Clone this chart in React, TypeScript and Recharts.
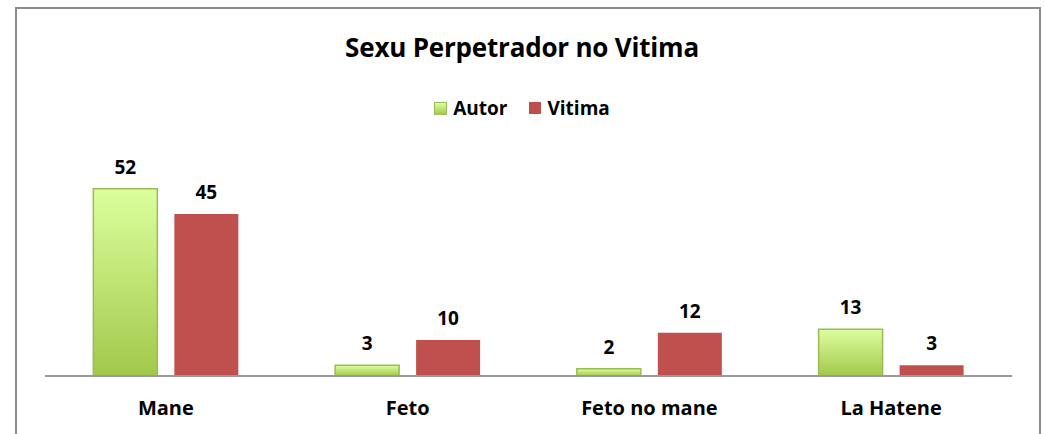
import { Bar, BarChart, LabelList, XAxis, YAxis } from "recharts";

const categories = ["Mane", "Feto", "Feto no mane", "La Hatene"];
const autor = [52, 3, 2, 13];
const vitima = [45, 10, 12, 3];

const data = categories.map((name, i) => ({ name, autor: autor[i], vitima: vitima[i] }));

const font = "'Open Sans', 'Noto Sans', sans-serif";

export default function App() {
  return (
    <div
      style={{
        position: "absolute",
        left: 0,
        top: 0,
        width: 1044,
        height: 434,
        overflow: "hidden",
        background: "#fff",
        fontFamily: font,
      }}
    >
      <div
        style={{
          position: "absolute",
          left: 15,
          top: 7,
          width: 1022,
          height: 460,
          border: "2px solid #8a8a8a",
        }}
      />
      <div
        style={{
          position: "absolute",
          left: 0,
          width: 1044,
          top: 29,
          textAlign: "center",
          fontSize: 26,
          fontWeight: 700,
          color: "#000",
          letterSpacing: -0.2,
        }}
      >
        Sexu Perpetrador no Vitima
      </div>
      <div
        style={{
          position: "absolute",
          left: 0,
          width: 1044,
          top: 95,
          display: "flex",
          justifyContent: "center",
          gap: 22,
          fontSize: 19,
          fontWeight: 700,
          color: "#000",
        }}
      >
        <span style={{ display: "flex", alignItems: "center", gap: 6 }}>
          <span
            style={{
              width: 11,
              height: 11,
              border: "1px solid #9bbb59",
              background: "linear-gradient(#dcff9e, #a4c94c)",
            }}
          />
          Autor
        </span>
        <span style={{ display: "flex", alignItems: "center", gap: 6 }}>
          <span style={{ width: 12, height: 12, background: "#c0504d" }} />
          Vitima
        </span>
      </div>
      <BarChart
        width={1044}
        height={434}
        data={data}
        margin={{ top: 160, right: 32, bottom: 28, left: 45 }}
        barCategoryGap="20%"
        barGap={17}
        style={{ position: "absolute", left: 0, top: 0 }}
      >
        <defs>
          <linearGradient id="greenGrad" x1="0" y1="0" x2="0" y2="1">
            <stop offset="0%" stopColor="#dcff9e" />
            <stop offset="100%" stopColor="#a2c84a" />
          </linearGradient>
        </defs>
        <YAxis hide domain={[0, 60]} />
        <XAxis
          dataKey="name"
          tickLine={false}
          axisLine={{ stroke: "#999", strokeWidth: 2 }}
          tickMargin={19}
          tick={{ fill: "#000", fontSize: 20, fontWeight: 700, fontFamily: font }}
        />
        <Bar dataKey="autor" fill="url(#greenGrad)" stroke="#9bbb59" strokeWidth={1.5} isAnimationActive={false}>
          <LabelList
            dataKey="autor"
            position="top"
            offset={15}
            fill="#000"
            fontSize={19}
            fontWeight={700}
            fontFamily={font}
          />
        </Bar>
        <Bar dataKey="vitima" fill="#c0504d" isAnimationActive={false}>
          <LabelList
            dataKey="vitima"
            position="top"
            offset={15}
            fill="#000"
            fontSize={19}
            fontWeight={700}
            fontFamily={font}
          />
        </Bar>
      </BarChart>
    </div>
  );
}
